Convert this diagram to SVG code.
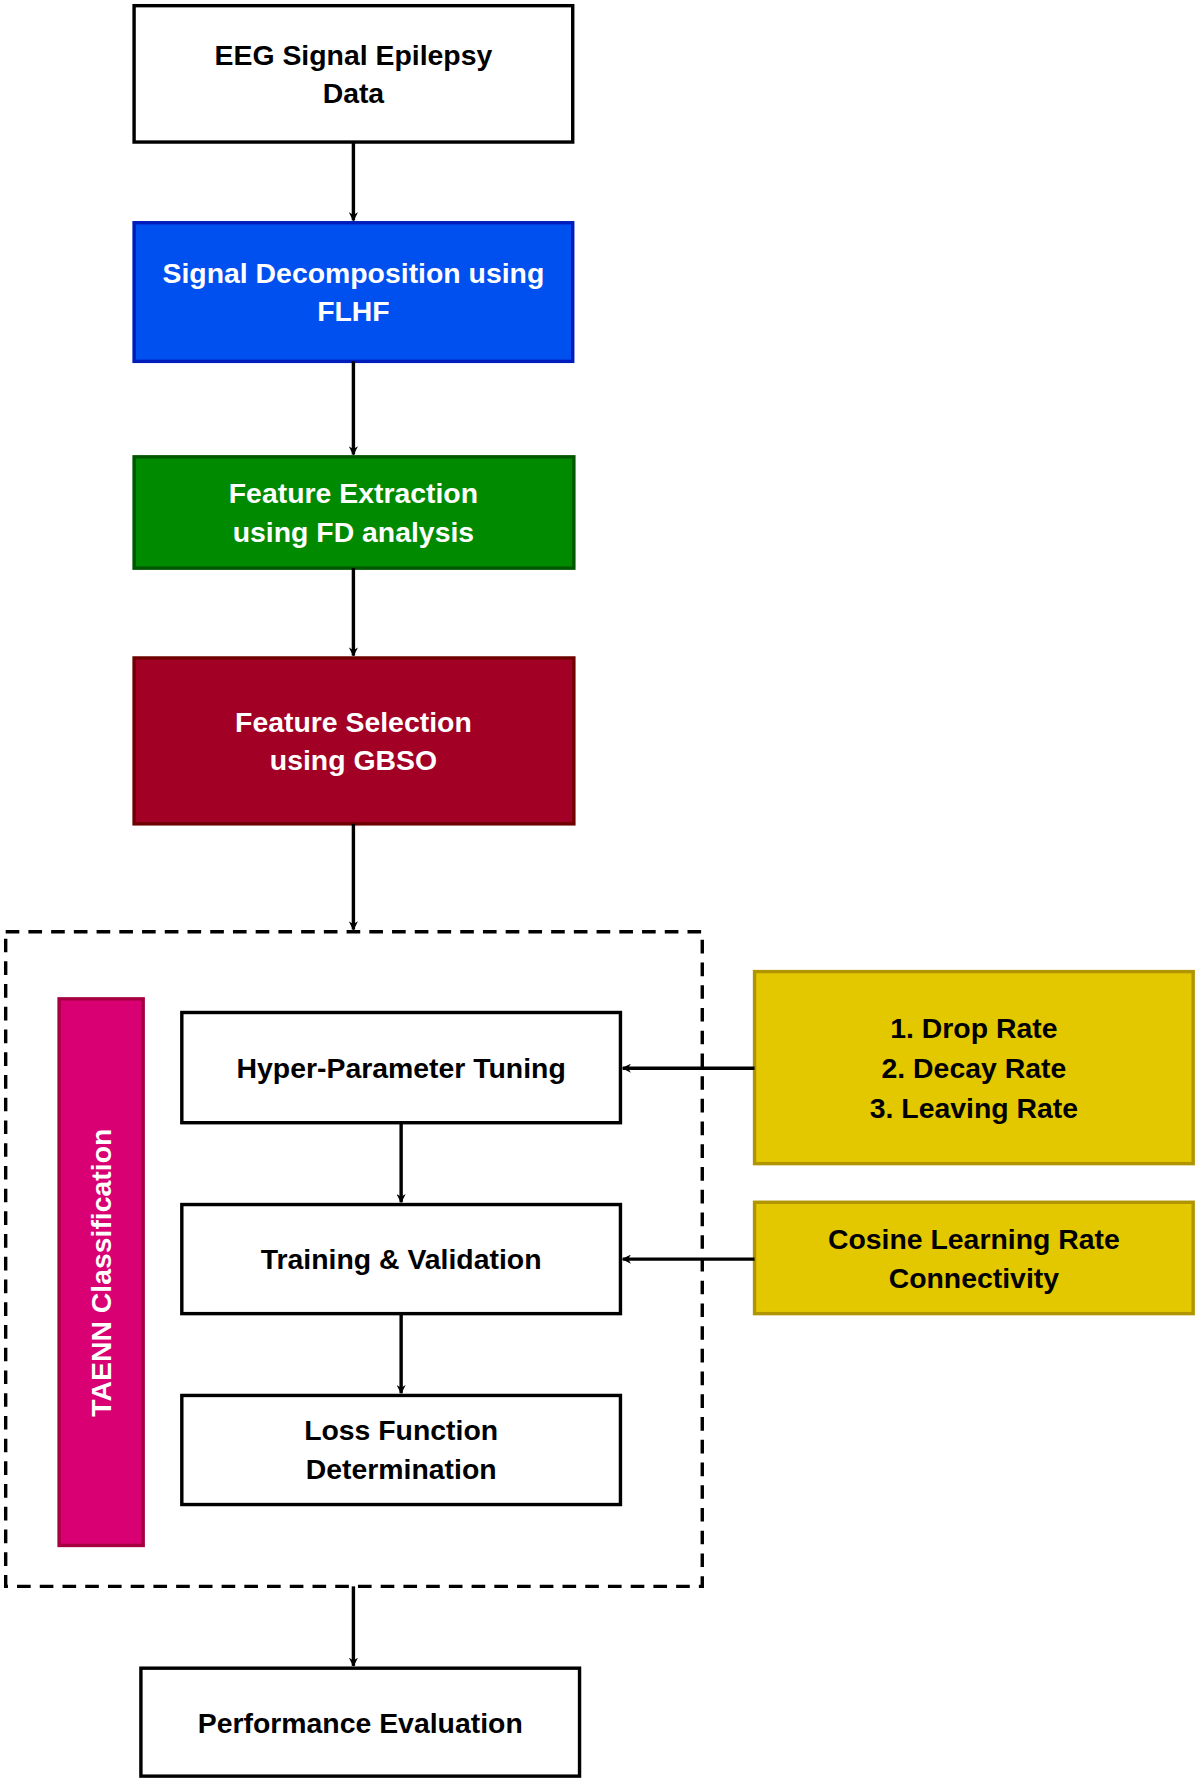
<svg xmlns="http://www.w3.org/2000/svg" width="1200" height="1782" viewBox="0 0 1200 1782">
<defs>
<style>
.b{stroke-width:3}
.t{font-family:"Liberation Sans",Arial,sans-serif;font-weight:bold;font-size:25px;text-anchor:middle;dominant-baseline:central}
.w{fill:#fff}
.k{fill:#000}
.c{stroke:#000;stroke-width:3;fill:none;marker-end:url(#a)}
</style>
<marker id="a" viewBox="0 0 10 10" refX="9" refY="5" markerWidth="8" markerHeight="8" markerUnits="userSpaceOnUse" orient="auto">
<path d="M0,0 L10,5 L0,10 L3,5 Z" fill="#000"/>
</marker>
</defs>
<rect width="1200" height="1782" fill="#fff"/>
<g transform="scale(1.13636)">
<g id="n1"><rect class="b" x="118" y="5" width="386" height="120" fill="#fff" stroke="#000"/><text class="t k" x="311" y="48">EEG Signal Epilepsy</text><text class="t k" x="311" y="82">Data</text></g>
<g id="n2"><rect class="b" x="118" y="196" width="386" height="122" fill="#0050ef" stroke="#001dbc"/><text class="t w" x="311" y="240">Signal Decomposition using</text><text class="t w" x="311" y="274">FLHF</text></g>
<g id="n3"><rect class="b" x="118" y="402" width="387" height="98" fill="#008a00" stroke="#005700"/><text class="t w" x="311" y="434">Feature Extraction</text><text class="t w" x="311" y="468">using FD analysis</text></g>
<g id="n4"><rect class="b" x="118" y="579" width="387" height="146" fill="#a20025" stroke="#6f0000"/><text class="t w" x="311" y="635">Feature Selection</text><text class="t w" x="311" y="669">using GBSO</text></g>
<g id="group"><rect x="5" y="820" width="613" height="576" fill="none" stroke="#000" stroke-width="3" stroke-dasharray="12,8"/></g>
<g id="n5"><rect class="b" x="52" y="879" width="74" height="481" fill="#d80073" stroke="#a50040"/><text class="t w" x="89" y="1120" transform="rotate(-90 89 1120)">TAENN Classification</text></g>
<g id="n6"><rect class="b" x="160" y="891" width="386" height="97" fill="#fff" stroke="#000"/><text class="t k" x="353" y="940">Hyper-Parameter Tuning</text></g>
<g id="n7"><rect class="b" x="160" y="1060" width="386" height="96" fill="#fff" stroke="#000"/><text class="t k" x="353" y="1108">Training &amp; Validation</text></g>
<g id="n8"><rect class="b" x="160" y="1228" width="386" height="96" fill="#fff" stroke="#000"/><text class="t k" x="353" y="1258">Loss Function</text><text class="t k" x="353" y="1293">Determination</text></g>
<g id="n9"><rect class="b" x="664" y="855" width="386" height="169" fill="#e3c800" stroke="#b09500"/><text class="t k" x="857" y="905">1. Drop Rate</text><text class="t k" x="857" y="940">2. Decay Rate</text><text class="t k" x="857" y="975">3. Leaving Rate</text></g>
<g id="n10"><rect class="b" x="664" y="1058" width="386" height="98" fill="#e3c800" stroke="#b09500"/><text class="t k" x="857" y="1090">Cosine Learning Rate</text><text class="t k" x="857" y="1125">Connectivity</text></g>
<g id="n11"><rect class="b" x="124" y="1468" width="386" height="95" fill="#fff" stroke="#000"/><text class="t k" x="317" y="1516">Performance Evaluation</text></g>
<g id="connectors">
<path class="c" d="M311,125 V194"/>
<path class="c" d="M311,318 V400"/>
<path class="c" d="M311,500 V577"/>
<path class="c" d="M311,725 V818"/>
<path class="c" d="M353,988 V1058"/>
<path class="c" d="M353,1156 V1226"/>
<path class="c" d="M664,940 H548"/>
<path class="c" d="M664,1108 H548"/>
<path class="c" d="M311,1396 V1466"/>
</g>
</g>
</svg>
